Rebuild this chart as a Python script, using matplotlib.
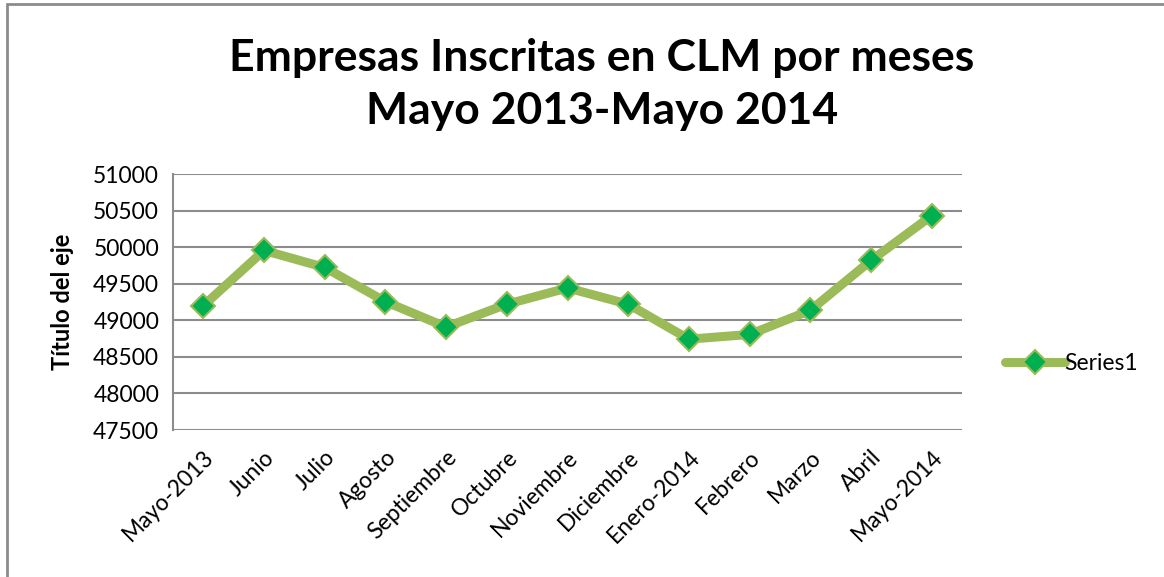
import matplotlib.pyplot as plt
from matplotlib.patches import Rectangle

plt.rcParams['font.family'] = ['Lato', 'DejaVu Sans']

meses = ['Mayo-2013', 'Junio', 'Julio', 'Agosto', 'Septiembre', 'Octubre',
         'Noviembre', 'Diciembre', 'Enero-2014', 'Febrero', 'Marzo', 'Abril',
         'Mayo-2014']
empresas = [49200, 49955, 49722, 49255, 48908, 49220, 49442, 49220,
            48742, 48806, 49135, 49818, 50430]
y_ticks = [47500, 48000, 48500, 49000, 49500, 50000, 50500, 51000]

fig = plt.figure(figsize=(11.64, 5.77), dpi=100)
ax = fig.add_axes([173/1164, 1 - 430/577, (962 - 173)/1164, (430 - 174)/577])

# chart border (only left and top visible in the original crop)
fig.patches.append(Rectangle((7/1164, -0.05), 1.2, 1 - 4/577 + 0.05,
                             transform=fig.transFigure, fill=False,
                             edgecolor='#8c8c8c', linewidth=2))

x = range(len(meses))
ax.plot(x, empresas, color='#9bbb59', linewidth=6.5, marker='D',
        markersize=12, markerfacecolor='#00b050', markeredgecolor='#9bbb59',
        markeredgewidth=1.5, label='Series1', solid_capstyle='round')

ax.set_xlim(-0.5, len(meses) - 0.5)
ax.set_ylim(47500, 51000)
ax.set_yticks(y_ticks)
ax.set_yticklabels([str(v) for v in y_ticks], fontsize=16.5)
ax.set_xticks(list(x))
ax.set_xticklabels(meses, rotation=45, ha='right', rotation_mode='anchor',
                   fontsize=16.5)
ax.tick_params(length=0, pad=10)
ax.tick_params(axis='x', pad=12)

ax.grid(axis='y', color='#8c8c8c', linewidth=1.5)
ax.set_axisbelow(True)
for s in ['top', 'right', 'bottom']:
    ax.spines[s].set_visible(False)
ax.spines['left'].set_color('#8c8c8c')
ax.spines['left'].set_linewidth(1.5)

ax.set_ylabel('Título del eje', fontsize=17, fontweight='bold', labelpad=14)

fig.text(0.517, 0.854, 'Empresas Inscritas en CLM por meses\nMayo 2013-Mayo 2014',
         ha='center', va='center', fontsize=32, fontweight='bold',
         linespacing=1.38)

ax.legend(loc='center left', bbox_to_anchor=(1.04, 0.26), frameon=False,
          fontsize=16.5, handlelength=2.6, handletextpad=0.0, borderpad=0)

fig.savefig('out.png', dpi=100)
